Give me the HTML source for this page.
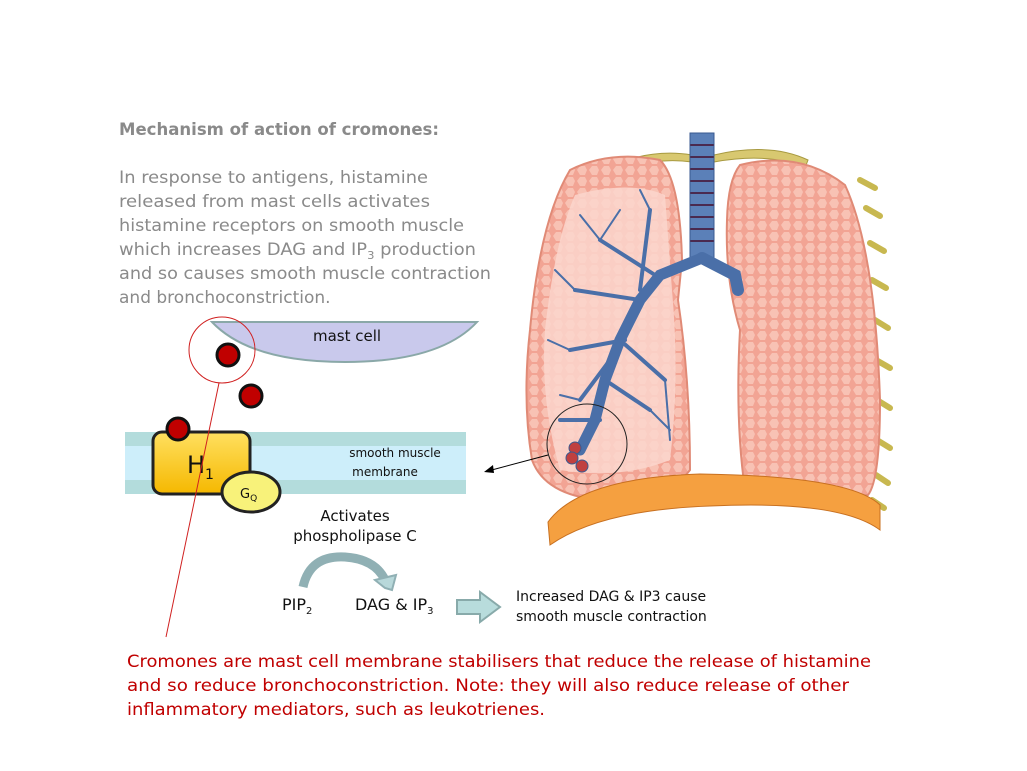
<!DOCTYPE html>
<html><head><meta charset="utf-8"><style>
html,body{margin:0;padding:0;background:#fff;}
svg{display:block;font-family:"DejaVu Sans","Liberation Sans",sans-serif;}
</style></head><body>
<svg width="1027" height="771" viewBox="0 0 1027 771" xmlns="http://www.w3.org/2000/svg">
<defs>
<linearGradient id="hg" x1="0" y1="0" x2="0" y2="1"><stop offset="0" stop-color="#ffe060"/><stop offset="1" stop-color="#f5b800"/></linearGradient>
<pattern id="cells" width="12" height="11" patternUnits="userSpaceOnUse"><rect width="12" height="11" fill="#f2a494"/><path d="M1 5 L4 1 L9 1 L11 5 L9 10 L4 10 Z" fill="#f8c2b4"/></pattern>
</defs>
<!-- text -->
<g fill="#8a8a8a" font-size="17">
<text x="119" y="135" font-weight="bold" textLength="320" lengthAdjust="spacingAndGlyphs">Mechanism of action of cromones:</text>
<text x="119" y="183" textLength="309" lengthAdjust="spacingAndGlyphs">In response to antigens, histamine</text>
<text x="119" y="207" textLength="311" lengthAdjust="spacingAndGlyphs">released from mast cells activates</text>
<text x="119" y="231" textLength="345" lengthAdjust="spacingAndGlyphs">histamine receptors on smooth muscle</text>
<text x="119" y="255" textLength="357" lengthAdjust="spacingAndGlyphs">which increases DAG and IP<tspan font-size="11" dy="4">3</tspan><tspan dy="-4"> production</tspan></text>
<text x="119" y="279" textLength="372" lengthAdjust="spacingAndGlyphs">and so causes smooth muscle contraction</text>
<text x="119" y="303">and bronchoconstriction.</text>
</g>
<!-- clavicles/ribs -->
<path d="M605 168 Q650 148 692 155 L692 162 Q650 156 608 176 Z" fill="#d8c870" stroke="#a89a40"/>
<path d="M714 155 Q770 142 808 160 L805 168 Q770 152 714 162 Z" fill="#d8c870" stroke="#a89a40"/>
<g stroke="#c8b850" stroke-width="6" stroke-linecap="round">
<path d="M860 180 L875 188 M866 208 L880 216 M870 243 L884 251 M872 280 L886 288 M875 320 L888 328 M876 360 L890 368 M877 400 L890 408 M877 440 L890 448 M876 475 L888 483 M872 500 L884 508"/>
</g>
<!-- lungs -->
<path d="M570 170 Q610 150 660 160 Q680 180 682 260 L678 300 Q690 380 690 470 Q660 510 600 500 Q545 495 532 460 Q522 400 530 330 Q540 220 570 170 Z" fill="url(#cells)" stroke="#e08a76" stroke-width="2"/>
<path d="M575 195 Q630 180 665 195 L672 290 Q680 380 670 460 Q620 480 560 470 Q540 400 545 330 Q555 240 575 195 Z" fill="#fbd6cc" opacity="0.85"/>
<path d="M740 165 Q800 150 845 185 Q875 250 880 400 Q880 480 868 495 Q800 505 745 490 Q735 420 740 330 Q725 280 727 220 Q728 180 740 165 Z" fill="url(#cells)" stroke="#e08a76" stroke-width="2"/>
<path d="M548 522 Q580 478 700 474 Q850 476 880 505 L880 530 Q840 500 710 506 Q600 510 550 545 Z" fill="#f5a040" stroke="#c87020"/>
<g stroke="#4a6fa8" fill="none" stroke-linecap="round">
<rect x="690" y="133" width="24" height="125" fill="#5b80b8" stroke="#3a5a90"/>
<g stroke="#4a2a50" stroke-width="2"><path d="M691 145 H713 M691 157 H713 M691 169 H713 M691 181 H713 M691 193 H713 M691 205 H713 M691 217 H713 M691 229 H713 M691 241 H713"/></g>
<path d="M702 258 L660 275 L640 300 L620 340 L605 380 L595 420 L580 450" stroke-width="11"/>
<path d="M702 258 L735 275 L738 290" stroke-width="12"/>
<path d="M655 275 L600 240 M640 300 L575 290 M625 340 L570 350 M610 360 L580 400 M605 380 L650 410 M600 420 L560 420 M640 290 L650 210 M620 340 L665 380" stroke-width="4"/>
<path d="M600 240 L580 215 M600 240 L620 210 M575 290 L555 270 M570 350 L548 340 M580 400 L560 395 M650 410 L670 430 M650 210 L640 190 M665 380 L670 440" stroke-width="2"/>
</g>
<circle cx="587" cy="444" r="40" fill="none" stroke="#222" stroke-width="1"/>
<g fill="#c04040" stroke="#3a5a90"><circle cx="575" cy="448" r="6"/><circle cx="572" cy="458" r="6"/><circle cx="582" cy="466" r="6"/></g>
<line x1="548" y1="455" x2="488" y2="471" stroke="#000"/>
<path d="M484 472 L493 465 L494 473 Z" fill="#000"/>
<!-- mast cell -->
<path d="M212 322 L477 322 Q440 362 345 362 Q250 362 212 322 Z" fill="#c9c9ec" stroke="#8aa8a8" stroke-width="2"/>
<text x="347" y="341" font-size="15" text-anchor="middle" fill="#111">mast cell</text>
<!-- membrane -->
<rect x="125" y="432" width="341" height="62" fill="#cdeefa"/>
<rect x="125" y="432" width="341" height="14" fill="#b3dcdc"/>
<rect x="125" y="480" width="341" height="14" fill="#b3dcdc"/>
<text x="395" y="457" font-size="12" text-anchor="middle" fill="#111">smooth muscle</text>
<text x="385" y="476" font-size="12" text-anchor="middle" fill="#111">membrane</text>
<rect x="153" y="432" width="97" height="62" rx="9" fill="url(#hg)" stroke="#222" stroke-width="3"/>
<text x="187" y="473" font-size="24" fill="#111">H<tspan font-size="14" dy="6">1</tspan></text>
<ellipse cx="251" cy="492" rx="29" ry="20" fill="#f8f27a" stroke="#222" stroke-width="3"/>
<text x="240" y="498" font-size="13" fill="#111">G<tspan font-size="9" dy="3">Q</tspan></text>
<circle cx="228" cy="355" r="11" fill="#c00000" stroke="#111" stroke-width="3"/>
<circle cx="251" cy="396" r="11" fill="#c00000" stroke="#111" stroke-width="3"/>
<circle cx="178" cy="429" r="11" fill="#c00000" stroke="#111" stroke-width="3"/>
<circle cx="222" cy="350" r="33" fill="none" stroke="#d02020" stroke-width="1"/>
<line x1="219" y1="383" x2="166" y2="637" stroke="#d02020" stroke-width="1"/>
<!-- pathway -->
<text x="355" y="521" font-size="15" text-anchor="middle" fill="#111">Activates</text>
<text x="355" y="541" font-size="15" text-anchor="middle" fill="#111">phospholipase C</text>
<path d="M303 587 Q310 555 345 557 Q375 559 385 580" fill="none" stroke="#90b0b4" stroke-width="9"/>
<path d="M375 580 L396 575 L392 590 L385 588 Z" fill="#b8d8da" stroke="#90b0b4" stroke-width="2"/>
<text x="282" y="610" font-size="16" fill="#111">PIP<tspan font-size="10" dy="4">2</tspan></text>
<text x="355" y="610" font-size="16" fill="#111">DAG &amp; IP<tspan font-size="10" dy="4">3</tspan></text>
<path d="M457 600 L480 600 L480 592 L500 607 L480 622 L480 614 L457 614 Z" fill="#b8dcdc" stroke="#88aaaa" stroke-width="2"/>
<text x="516" y="601" font-size="14" fill="#111">Increased DAG &amp; IP3 cause</text>
<text x="516" y="621" font-size="14" fill="#111">smooth muscle contraction</text>
<g fill="#c00000" font-size="17">
<text x="127" y="667" textLength="744" lengthAdjust="spacingAndGlyphs">Cromones are mast cell membrane stabilisers that reduce the release of histamine</text>
<text x="127" y="691" textLength="722" lengthAdjust="spacingAndGlyphs">and so reduce bronchoconstriction.  Note: they will also reduce release of other</text>
<text x="127" y="715" textLength="418" lengthAdjust="spacingAndGlyphs">inflammatory mediators, such as leukotrienes.</text>
</g>
</svg>
</body></html>
